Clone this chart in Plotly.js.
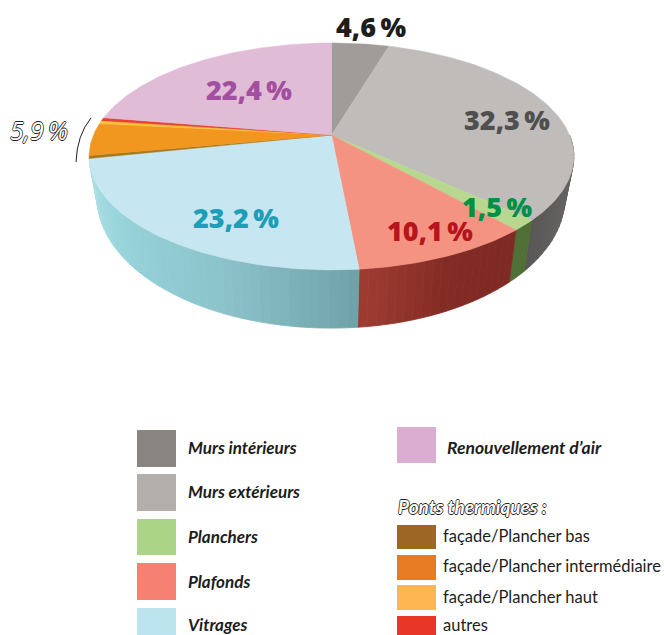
<!DOCTYPE html>
<html><head><meta charset="utf-8">
<script src="https://cdn.plot.ly/plotly-3.0.1.min.js"></script>
<style>html,body{margin:0;padding:0;background:#fff}#c{width:664px;height:635px}</style>
</head><body><div id="c"></div>
<script>
const categories=["Murs intérieurs","Murs extérieurs","Planchers","Plafonds","Vitrages","façade/Plancher bas","façade/Plancher intermédiaire","façade/Plancher haut","autres","Renouvellement d’air"];
const values=[4.6,32.3,1.5,10.1,23.2,0.4,4.6,0.45,0.45,22.4];
const topColors=["#a09c99","#bfbcb9","#b8d890","#f59383","#c6e7f2","#a5791e","#f19720","#fcc03e","#e8412c","#e0bcd6"];
const sideStops=[null,["#6e6c6a","#5a5856"],["#4f6f36","#4f6f36"],["#7f2a24","#832b25","#a03c32"],["#6fa2a8","#8cc3cb","#97d2da","#aee0e6"],null,null,null,null,null];
const labelTexts=["4,6\u2009%","32,3\u2009%","1,5\u2009%","10,1\u2009%","23,2\u2009%","22,4\u2009%"];
const labelColors=["#1d1d1b","#4f4f51","#009045","#b8141c","#1c9db8","#a24f9f"];
const labelX=[371,507,497,430,236,249];
const labelY=[26,119,206,230,217,89];
const legendLeft=["Murs intérieurs","Murs extérieurs","Planchers","Plafonds","Vitrages"];
const legendLeftColors=["#888582","#b2aeaa","#abd486","#f68172","#bce4ef"];
const legendLeftTop=[430,474,519,563,608];
const legendLeftBottom=[467,511,555,600,640];
const legendLeftY=[447,491,536,581,624];
const legendRight=["façade/Plancher bas","façade/Plancher intermédiaire","façade/Plancher haut","autres"];
const legendRightColors=["#9c6723","#e77b22","#fdb651","#e73526"];
const legendRightTop=[525,555,585,616];
const legendRightBottom=[549,580,610,640];
const legendRightY=[536,566,597,625];

const ax=331.5,ay=135,A=238,B=109.4,k=0.189;
function proj(t){const c=Math.cos(t),s=Math.sin(t),d=1+k*c;return [A*s/d,-B*c/d];}
function topPt(t){const p=proj(t);return [ax+p[0],ay+p[1]];}
function botPt(t){const p=proj(t);return [ax-0.5+0.965*p[0],ay+38+1.15*p[1]];}
function hex(h){return [1,3,5].map(i=>parseInt(h.substr(i,2),16));}
function mix(stops,f){const n=stops.length-1,u=Math.min(n-1e-6,f*n),i=Math.floor(u),w=u-i,a=hex(stops[i]),b=hex(stops[i+1]);
 return 'rgb('+a.map((v,j)=>Math.round(v+(b[j]-v)*w)).join(',')+')';}
const total=values.reduce((a,b)=>a+b,0);
let cum=0;
const sideTraces=[],topTraces=[];
values.forEach((v,i)=>{
 const t0=cum/total*2*Math.PI,t1=(cum+v)/total*2*Math.PI;cum+=v;
 if(sideStops[i]){
  const from=Math.max(t0,Math.PI*0.5);
  const n=Math.max(1,Math.ceil((t1-from)/(2*Math.PI/180)));
  for(let j=0;j<n;j++){
   const a=from+(t1-from)*j/n,b=from+(t1-from)*(j+1)/n;
   const p=[topPt(a),topPt(b),botPt(b),botPt(a),topPt(a)];
   const col=mix(sideStops[i],(j+0.5)/n);
   sideTraces.push({x:p.map(q=>q[0]),y:p.map(q=>q[1]),mode:'lines',fill:'toself',fillcolor:col,line:{color:col,width:0.8},hoverinfo:'skip',showlegend:false});
  }
 }
 const xs=[ax],ys=[ay];
 const m=Math.max(2,Math.ceil((t1-t0)/(Math.PI/180)));
 for(let j=0;j<=m;j++){const q=topPt(t0+(t1-t0)*j/m);xs.push(q[0]);ys.push(q[1]);}
 xs.push(ax);ys.push(ay);
 topTraces.push({x:xs,y:ys,name:categories[i],mode:'lines',fill:'toself',fillcolor:topColors[i],line:{color:topColors[i],width:0.5},hoverinfo:'name',showlegend:false});
});
const narrow='Lato,sans-serif';
const bold='"Open Sans",sans-serif';
const annotations=[];
labelTexts.forEach((t,i)=>annotations.push({x:labelX[i],y:labelY[i],text:t,showarrow:false,xanchor:'center',yanchor:'middle',font:{family:bold,size:27,color:labelColors[i],weight:800}}));
const outline='0.8px 0 0 #222,-0.8px 0 0 #222,0 0.8px 0 #222,0 -0.8px 0 #222';
annotations.push({x:39,y:130,text:'5,9\u2009%',showarrow:false,xanchor:'center',yanchor:'middle',font:{family:bold,size:25,color:'#fff',style:'italic',shadow:outline}});
const shapes=[];
legendLeft.forEach((t,i)=>{
 shapes.push({type:'rect',x0:137,x1:176,y0:legendLeftTop[i],y1:legendLeftBottom[i],fillcolor:legendLeftColors[i],line:{width:0}});
 annotations.push({x:186,y:legendLeftY[i],text:t,showarrow:false,xanchor:'left',yanchor:'middle',font:{family:narrow,size:17,color:'#1d1d1b',style:'italic',weight:700}});
});
shapes.push({type:'rect',x0:397,x1:436,y0:427,y1:463,fillcolor:'#dbadd0',line:{width:0}});
annotations.push({x:445,y:447,text:"Renouvellement d’air",showarrow:false,xanchor:'left',yanchor:'middle',font:{family:narrow,size:17.5,color:'#1d1d1b',style:'italic',weight:700}});
annotations.push({x:396,y:506,text:'Ponts thermiques :',showarrow:false,xanchor:'left',yanchor:'middle',font:{family:narrow,size:19,color:'#fff',style:'italic',weight:700,shadow:outline}});
legendRight.forEach((t,i)=>{
 shapes.push({type:'rect',x0:397,x1:436,y0:legendRightTop[i],y1:legendRightBottom[i],fillcolor:legendRightColors[i],line:{width:0}});
 annotations.push({x:441,y:legendRightY[i],text:t,showarrow:false,xanchor:'left',yanchor:'middle',font:{family:'Lato,sans-serif',size:16.5,color:'#1d1d1b'}});
});
shapes.push({type:'path',path:'M 91 118 Q 77 135 76 162',line:{color:'#1d1d1b',width:1}});
Plotly.newPlot('c',sideTraces.concat(topTraces),{
 width:664,height:635,margin:{l:0,r:0,t:0,b:0},paper_bgcolor:'#fff',plot_bgcolor:'#fff',showlegend:false,
 xaxis:{range:[0,664],visible:false,fixedrange:true},
 yaxis:{range:[635,0],visible:false,fixedrange:true},
 shapes:shapes,annotations:annotations,hovermode:'closest'
},{displayModeBar:false,staticPlot:true});
</script></body></html>
